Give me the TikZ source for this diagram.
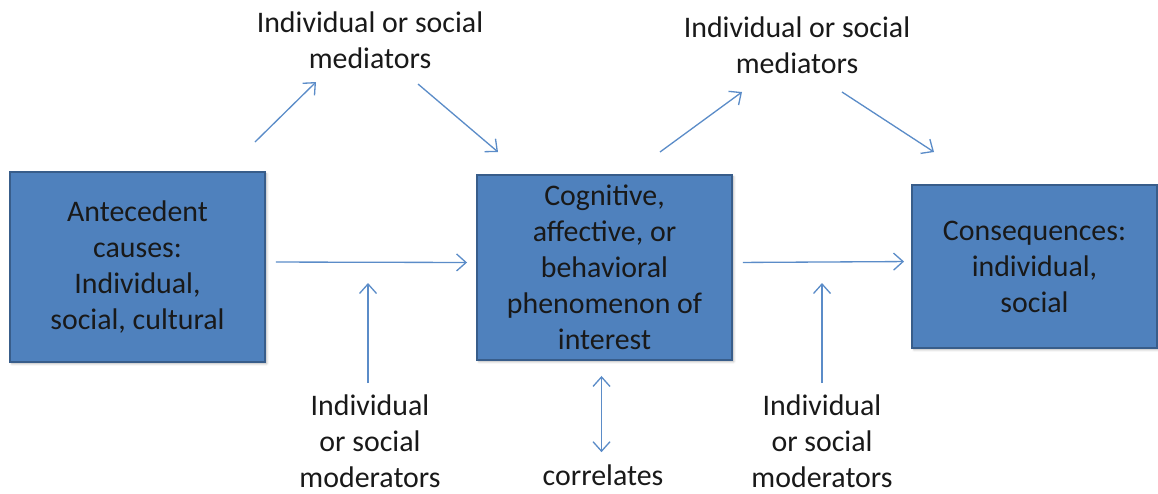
\documentclass[tikz,border=0pt]{standalone}
\usepackage{fontspec}
\setmainfont{Carlito}
\usepackage{tikz}
\usetikzlibrary{arrows.meta}
\usetikzlibrary{shadows.blur}
\usetikzlibrary{positioning}
\definecolor{boxfill}{HTML}{4F81BD}
\definecolor{boxline}{HTML}{385D8A}
\definecolor{arrowcol}{HTML}{5B8CC8}
\tikzstyle{box}=[draw=boxline,fill=boxfill,line width=1.1pt,rectangle,align=center,
  text=black!90,font=\fontsize{17}{20.5}\selectfont,
  blur shadow={shadow xshift=1pt,shadow yshift=-1pt,shadow blur radius=1.2pt,shadow opacity=30}]
\tikzstyle{lbl}=[align=center,text=black!90,font=\fontsize{17}{20.5}\selectfont,inner sep=0pt]
\tikzstyle{flow}=[draw,arrowcol,line width=0.75pt,-{Straight Barb[length=1.9mm,width=3.4mm]}]
\tikzstyle{twoway}=[draw,arrowcol,line width=0.75pt,
  {Straight Barb[length=1.9mm,width=3.4mm]}-{Straight Barb[length=1.9mm,width=3.4mm]}]

\begin{document}
\begin{tikzpicture}

	\useasboundingbox (0,0) rectangle (23.16,-9.86);

	\node[box,minimum width=5.1cm,minimum height=3.8cm] (ant) at (2.75,-5.34)
	{Antecedent\\causes:\\Individual,\\social, cultural};
	\node[box,minimum width=5.1cm,minimum height=3.7cm] (phe) at (12.09,-5.35)
	{Cognitive,\\affective, or\\behavioral\\phenomenon of\\interest};
	\node[box,minimum width=4.9cm,minimum height=3.26cm] (con) at (20.69,-5.33)
	{Consequences:\\individual,\\social};

	\node[lbl] (med1) at (7.4,-0.8) {Individual or social\\mediators};
	\node[lbl] (med2) at (15.94,-0.9) {Individual or social\\mediators};
	\node[lbl] (mod1) at (7.4,-8.82) {Individual\\or social\\moderators};
	\node[lbl] (mod2) at (16.44,-8.82) {Individual\\or social\\moderators};
	\node[lbl] (cor) at (12.06,-9.5) {correlates};

	% free ends
	\coordinate (d1a) at (5.1,-2.84);
	\coordinate (d1b) at (6.32,-1.64);
	\coordinate (d2a) at (8.36,-1.68);
	\coordinate (d2b) at (9.96,-3.04);
	\coordinate (d3a) at (13.2,-3.04);
	\coordinate (d3b) at (14.84,-1.84);
	\coordinate (d4a) at (16.84,-1.84);
	\coordinate (d4b) at (18.68,-3.04);
	\coordinate (m1a) at (7.36,-7.66);
	\coordinate (m1b) at (7.36,-5.66);
	\coordinate (m2a) at (16.44,-7.66);
	\coordinate (m2b) at (16.44,-5.66);

	\path[flow] ([yshift=0.1cm]ant.east) -- ([yshift=0.1cm]phe.west)
	[shorten <=0.2cm,shorten >=0.18cm];
	\path[flow] ([yshift=0.1cm]phe.east) -- ([yshift=0.1cm]con.west)
	[shorten <=0.2cm,shorten >=0.14cm];

	\path[flow] (d1a) -- (d1b);
	\path[flow] (d2a) -- (d2b);
	\path[flow] (d3a) -- (d3b);
	\path[flow] (d4a) -- (d4b);

	\path[flow] (m1a) -- (m1b);
	\path[flow] (m2a) -- (m2b);

	\path[twoway] ([xshift=-0.06cm]phe.south)
	-- ([xshift=-0.06cm]phe.south |- cor.north)
	[shorten <=0.3cm,shorten >=0.24cm];

\end{tikzpicture}
\end{document}
